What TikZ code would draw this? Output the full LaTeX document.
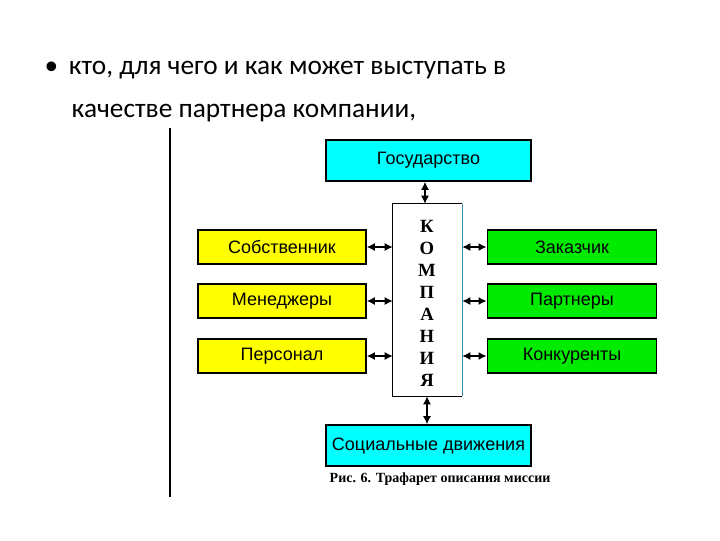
\documentclass[tikz,border=0pt]{standalone}
\usepackage{fontspec}
\setmainfont{Carlito}
\newfontfamily\arl{Liberation Sans}
\newfontfamily\tms{Liberation Serif}
\usetikzlibrary{arrows.meta}
\definecolor{cy}{RGB}{0,255,255}
\definecolor{gr}{RGB}{0,235,0}
\definecolor{ye}{RGB}{255,255,0}
\begin{document}
\begin{tikzpicture}[x=0.75pt,y=-0.75pt,
  bx/.style={draw=black,line width=1.2pt,minimum height=25.5pt,inner sep=0pt,font=\arl\fontsize{13.5}{15}\selectfont},
  dar/.style={{Latex[length=6pt,width=6pt]}-{Latex[length=6pt,width=6pt]},line width=1pt},
  letter/.style={font=\tms\bfseries\fontsize{14}{15}\selectfont}]
\useasboundingbox (0,0) rectangle (720,540);
\fill[white] (0,0) rectangle (720,540);
\node[anchor=west,font=\fontsize{20.5}{22}\selectfont] (l1) at (40,70) {•\hspace{8pt}кто, для чего и как может выступать в};
\node[anchor=west,font=\fontsize{20.5}{22}\selectfont] (l2) at (67,113) {качестве партнера компании,};
\draw[line width=0.8pt] (170,128) -- (170,497);
\node[bx,fill=cy,minimum width=153.75pt,minimum height=30.75pt] (gov) at (428.5,160.5) {Государство};
\node[bx,fill=cy,minimum width=153.75pt,minimum height=30.75pt,font=\arl\fontsize{13.5}{15}\selectfont] (soc) at (428.5,445.5) {Социальные движения};
\node[bx,fill=ye,minimum width=126pt] (y1) at (282,247) {Собственник};
\node[bx,fill=ye,minimum width=126pt] (y2) at (282,301) {Менеджеры};
\node[bx,fill=ye,minimum width=126pt] (y3) at (282,356) {Персонал};
\node[bx,fill=gr,minimum width=127pt] (g1) at (572,247) {Заказчик};
\node[bx,fill=gr,minimum width=127pt] (g2) at (572,301) {Партнеры};
\node[bx,fill=gr,minimum width=127pt] (g3) at (572,356) {Конкуренты};
\node[draw=none,minimum width=51.75pt,minimum height=144pt,inner sep=0pt] (co) at (427.5,300) {};
\draw[line width=1pt] (co.north east) -- (co.north west) -- (co.south west) -- (co.south east);
\draw[cyan!70!black,line width=0.6pt] (co.north east) -- (co.south east);
\foreach \l [count=\i] in {К,О,М,П,А,Н,И,Я}
  \node[letter] (L\i) at (427,226+22*\i-22) {\l};
\draw[dar] (gov.south -| 425,0) -- (co.north -| 425,0);
\draw[dar] (co.south -| 427,0) -- (soc.north -| 427,0);
\draw[dar] (y1.east) -- (y1.east -| co.west);
\draw[dar] (y2.east) -- (y2.east -| co.west);
\draw[dar] (y3.east) -- (y3.east -| co.west);
\draw[dar] (g1.west -| co.east) -- (g1.west);
\draw[dar] (g2.west -| co.east) -- (g2.west);
\draw[dar] (g3.west -| co.east) -- (g3.west);
\node[anchor=west,font=\tms\bfseries\fontsize{10.5}{12}\selectfont] (cap) at (325,479) {Рис. 6. Трафарет описания миссии};
\end{tikzpicture}
\end{document}
